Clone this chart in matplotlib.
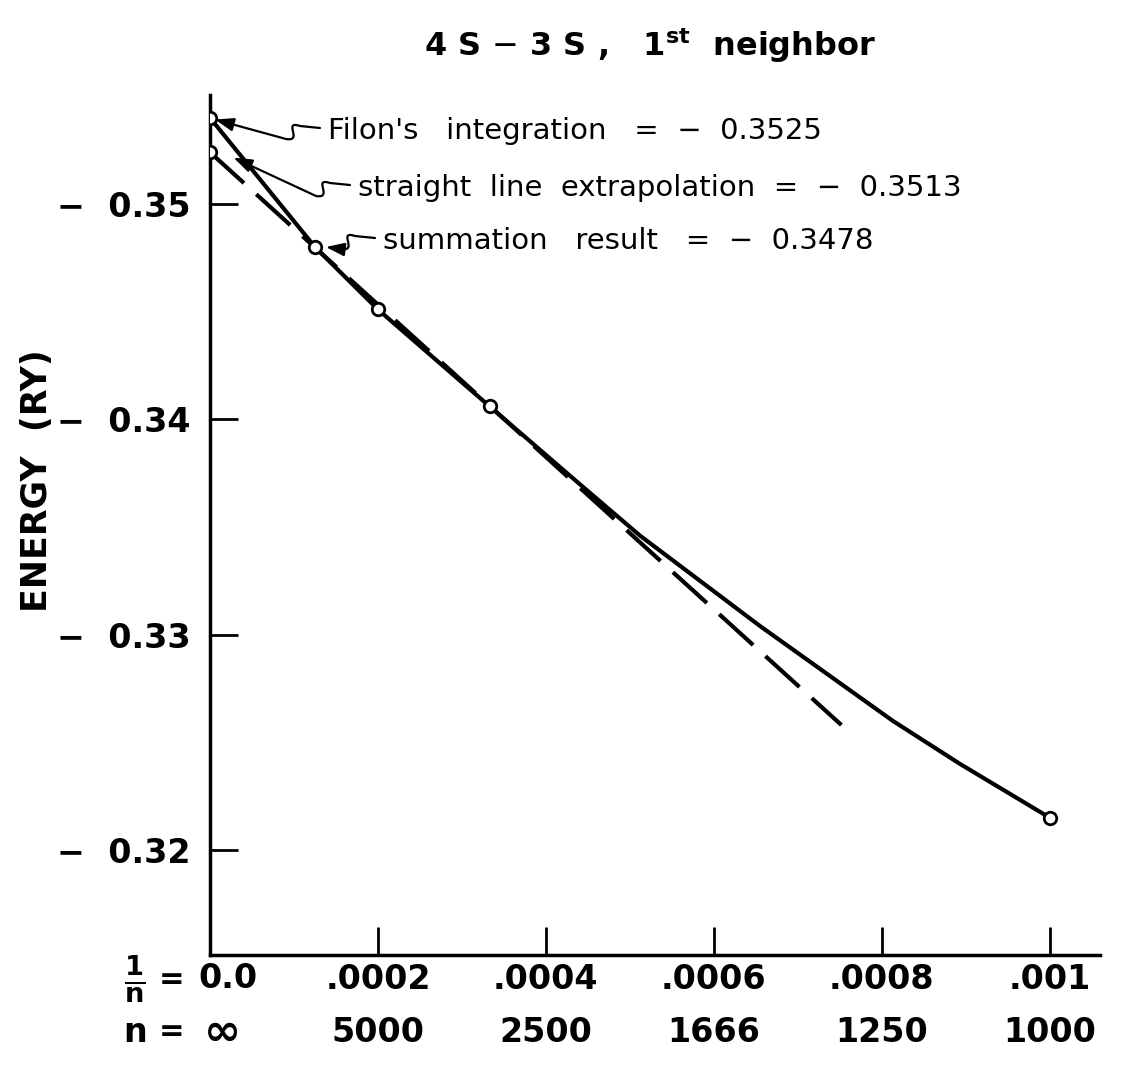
import matplotlib
matplotlib.use("Agg")
import matplotlib.pyplot as plt
from matplotlib.patches import FancyArrowPatch
from matplotlib.path import Path

W, H = 1121, 1076

# Energy curve (1/n vs energy in Ry)
curve_inv_n = [0.0, 0.000125, 0.0002, 0.000333, 0.00044, 0.000512, 0.000655, 0.000813, 0.000893, 0.001]
curve_energy = [-0.3540, -0.3480, -0.3451, -0.3406, -0.3370, -0.3346, -0.3304, -0.3260, -0.3240, -0.3215]

# Computed points (open circles)
calc_inv_n = [0.0, 0.000125, 0.0002, 0.000333, 0.001]
calc_energy = [-0.3540, -0.3480, -0.3451, -0.3406, -0.3215]

# Straight line extrapolation (dashed)
extrap_inv_n = [0.0, 0.000752]
extrap_energy = [-0.3524, -0.3258]

# Axis ticks
inv_n_ticks = [0.0, 0.0002, 0.0004, 0.0006, 0.0008, 0.001]
inv_n_labels = ["0.0", ".0002", ".0004", ".0006", ".0008", ".001"]
n_labels = ["\u221e", "5000", "2500", "1666", "1250", "1000"]
energy_ticks = [-0.35, -0.34, -0.33, -0.32]
energy_labels = ["\u2212  0.35", "\u2212  0.34", "\u2212  0.33", "\u2212  0.32"]

# Annotations: text and the point each arrow points at
notes = ["Filon's   integration   =  \u2212  0.3525",
         "straight  line  extrapolation  =  \u2212  0.3513",
         "summation   result   =  \u2212  0.3478"]
note_tips = [(0.000006, -0.35392), (0.000028, -0.35215), (0.000138, -0.3480)]
note_pos = [(328, 131), (358, 188), (383, 241)]  # pixel position of text start


def wavy_arrow(fig, tail, tip):
    # tail in figure pixels (y from top), tip in display coords
    x0, y0 = tail
    pts = [(x0, y0), (x0 - 20, y0 - 2),
           (x0 - 38, y0 - 8), (x0 - 16, y0 + 14), (x0 - 34, y0 + 11)]
    pts = [(px / W, 1 - py / H) for px, py in pts]
    pts.append((tip[0] / W, tip[1] / H))
    codes = [Path.MOVETO, Path.LINETO, Path.CURVE4, Path.CURVE4, Path.CURVE4, Path.LINETO]
    arr = FancyArrowPatch(path=Path(pts, codes), arrowstyle="-|>,head_length=0.7,head_width=0.25",
                          mutation_scale=16, color="black", lw=1.6, transform=fig.transFigure)
    fig.add_artist(arr)


fig = plt.figure(figsize=(W / 100, H / 100), dpi=100)
ax = fig.add_axes([210 / W, 1 - 955 / H, (1100 - 210) / W, (955 - 95) / H])

ax.plot(curve_inv_n, curve_energy, color="black", lw=3, solid_capstyle="round", zorder=2)
ax.plot(extrap_inv_n, extrap_energy, color="black", lw=3, dashes=(11, 4), zorder=2)
ax.plot(calc_inv_n, calc_energy, "o", ms=9, mfc="white", mec="black", mew=2, zorder=3)
ax.plot([extrap_inv_n[0]], [extrap_energy[0]], "o", ms=9, mfc="white", mec="black", mew=2, zorder=3)

ax.set_xlim(0, 0.00106)
ax.set_ylim(-0.31512, -0.35506)

for s in ["top", "right"]:
    ax.spines[s].set_visible(False)
ax.spines["left"].set_linewidth(2.5)
ax.spines["bottom"].set_linewidth(2.5)

# first label of each row sits a bit right of the axis corner, drawn separately
ax.set_xticks(inv_n_ticks)
ax.set_xticklabels([""] + inv_n_labels[1:], fontsize=24, fontweight="bold")
ax.set_yticks(energy_ticks)
ax.set_yticklabels(energy_labels, fontsize=24, fontweight="bold")
ax.tick_params(axis="x", direction="in", length=20, width=2, pad=6)
ax.tick_params(axis="y", direction="in", length=20, width=2, pad=14)

fig.text(37 / W, 1 - 481 / H, "ENERGY  (RY)", rotation=90, ha="center", va="center",
         fontsize=25, fontweight="bold")

row1_y, row2_y = 979, 1032
fig.text(228 / W, 1 - row1_y / H, inv_n_labels[0], ha="center", va="center",
         fontsize=24, fontweight="bold")
fig.text(222 / W, 1 - row2_y / H, n_labels[0], ha="center", va="center",
         fontsize=32, fontweight="bold")
for xv, lab in zip(inv_n_ticks[1:], n_labels[1:]):
    ax.text(xv, -0.09, lab, transform=ax.get_xaxis_transform(), ha="center", va="center",
            fontsize=24, fontweight="bold")
fig.text(135 / W, 1 - row1_y / H, r"$\mathbf{\frac{1}{n}}$", ha="center", va="center", fontsize=28)
fig.text(172 / W, 1 - row1_y / H, "=", ha="center", va="center", fontsize=22, fontweight="bold")
fig.text(135 / W, 1 - row2_y / H, "n", ha="center", va="center", fontsize=24, fontweight="bold")
fig.text(172 / W, 1 - row2_y / H, "=", ha="center", va="center", fontsize=22, fontweight="bold")

# annotations with wavy arrows
for txt, tip, (px, py) in zip(notes, note_tips, note_pos):
    fig.text(px / W, 1 - py / H, txt, ha="left", va="center", fontsize=21)
    wavy_arrow(fig, (px - 8, py - 3), ax.transData.transform(tip))

fig.text(650 / W, 1 - 45 / H, r"4 S $-$ 3 S ,   1$^{\mathbf{st}}$  neighbor",
         ha="center", va="center", fontsize=23, fontweight="bold")

fig.savefig("out.png", dpi=100)
